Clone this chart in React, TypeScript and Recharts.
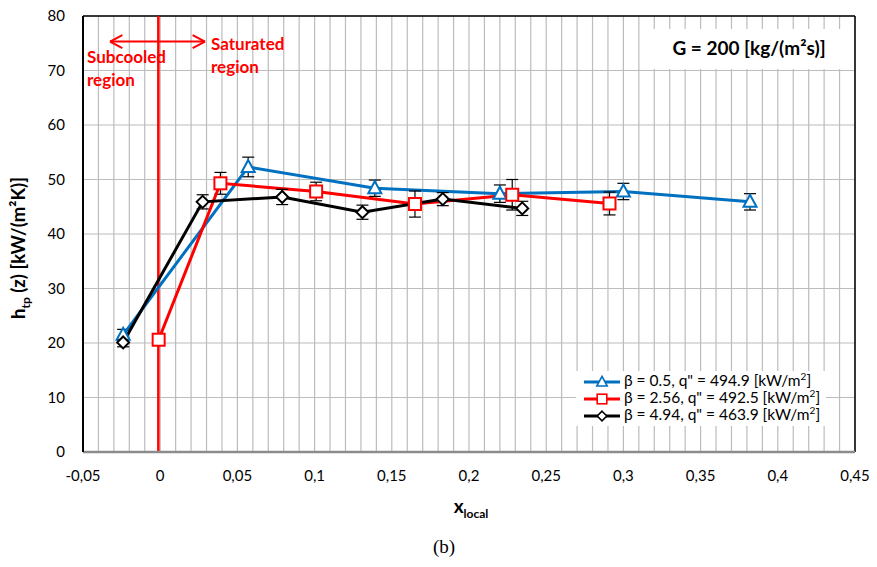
import {
  ComposedChart,
  Line,
  XAxis,
  YAxis,
  CartesianGrid,
  ErrorBar,
  ReferenceLine,
} from 'recharts'

// series
const blueX = [-0.024, 0.057, 0.139, 0.22, 0.3, 0.382]
const blueY = [21.5, 52.3, 48.4, 47.4, 47.8, 45.9]
const blueErr = [1.0, 1.8, 1.5, 1.6, 1.5, 1.5]

const redX = [-0.001, 0.039, 0.101, 0.165, 0.228, 0.291]
const redY = [20.6, 49.3, 47.8, 45.5, 47.2, 45.6]
const redErr = [0.8, 2.0, 1.7, 2.4, 2.8, 2.1]

const blackX = [-0.024, 0.0275, 0.079, 0.131, 0.183, 0.2345]
const blackY = [20.1, 45.9, 46.8, 44.0, 46.4, 44.7]
const blackErr = [0.8, 1.3, 1.4, 1.3, 1.2, 1.3]

const yTicks = [0, 10, 20, 30, 40, 50, 60, 70, 80]
// minor grid every 0.01, labels every 0.05
const xTicks = Array.from({ length: 51 }, (_, i) => (i - 5) / 100)

const seriesNames = [
  'β = 0.5, q" = 494.9 [kW/m',
  'β = 2.56, q" = 492.5 [kW/m',
  'β = 4.94, q" = 463.9 [kW/m',
]
const BLUE = '#0070C0'
const RED = '#FF0000'
const FONT = 'Lato, "Open Sans", sans-serif'

const toRows = (xs: number[], ys: number[], es: number[]) =>
  xs.map((x, i) => ({ x, y: ys[i], err: es[i] }))

const blueData = toRows(blueX, blueY, blueErr)
const redData = toRows(redX, redY, redErr)
const blackData = toRows(blackX, blackY, blackErr)

function formatX(v: number): string {
  const h = Math.round(v * 100)
  if (h % 5 !== 0) return ''
  return String(h / 100).replace('.', ',')
}

function Triangle({ cx, cy }: any) {
  if (cx == null || cy == null) return null
  return (
    <path
      d={`M${cx},${cy - 7} L${cx + 6.5},${cy + 5} L${cx - 6.5},${cy + 5} Z`}
      fill="#fff"
      stroke={BLUE}
      strokeWidth={2}
    />
  )
}

function Square({ cx, cy }: any) {
  if (cx == null || cy == null) return null
  return <rect x={cx - 6} y={cy - 6} width={12} height={12} fill="#fff" stroke={RED} strokeWidth={2} />
}

function Diamond({ cx, cy }: any) {
  if (cx == null || cy == null) return null
  return (
    <path
      d={`M${cx},${cy - 6} L${cx + 6},${cy} L${cx},${cy + 6} L${cx - 6},${cy} Z`}
      fill="#fff"
      stroke="#000"
      strokeWidth={2}
    />
  )
}

function LegendIcon({ kind }: { kind: number }) {
  const color = [BLUE, RED, '#000'][kind]
  const Shape = [Triangle, Square, Diamond][kind]
  return (
    <svg width={40} height={16} style={{ verticalAlign: 'middle' }}>
      <line x1={2} y1={8} x2={38} y2={8} stroke={color} strokeWidth={3} />
      <g transform="translate(20,8) scale(0.8) translate(-20,-8)">
        <Shape cx={20} cy={8} />
      </g>
    </svg>
  )
}

function LegendBox() {
  return (
    <div
      style={{
        position: 'absolute',
        left: 576,
        top: 371,
        background: '#fff',
        padding: '1px 6px 3px 6px',
        fontFamily: FONT,
        fontSize: 15.5,
        color: '#000',
      }}
    >
      {seriesNames.map((n, i) => (
        <div key={n} style={{ height: 17, lineHeight: '17px', whiteSpace: 'nowrap' }}>
          <LegendIcon kind={i} />
          <span style={{ marginLeft: 2 }}>
            {n}
            <sup style={{ fontSize: 10, lineHeight: 0 }}>2</sup>]
          </span>
        </div>
      ))}
    </div>
  )
}

const textAbs = (left: number, top: number): React.CSSProperties => ({
  position: 'absolute',
  left,
  top,
  fontFamily: FONT,
  whiteSpace: 'nowrap',
})

export default function App() {
  return (
    <div style={{ position: 'absolute', left: 0, top: 0, width: 877, height: 567, background: '#fff' }}>
      <ComposedChart
        width={877}
        height={567}
        margin={{ top: 16, right: 22, left: 0, bottom: 85 }}
        style={{ fontFamily: FONT }}
      >
        <CartesianGrid stroke="#bcbcbc" strokeWidth={1.2} />
        <XAxis
          type="number"
          dataKey="x"
          domain={[-0.05, 0.45]}
          ticks={xTicks}
          interval={0}
          tickFormatter={formatX}
          allowDataOverflow
          height={30}
          tickLine={false}
          axisLine={{ stroke: '#8c8c8c', strokeWidth: 2.5 }}
          tick={{ fontSize: 15, fill: '#000' }}
          tickMargin={12}
        />
        <YAxis
          type="number"
          domain={[0, 80]}
          ticks={yTicks}
          interval={0}
          width={83}
          tickLine={false}
          axisLine={{ stroke: '#000', strokeWidth: 2 }}
          tick={{ fontSize: 15, fill: '#000' }}
          tickMargin={12}
        />
        <ReferenceLine y={80} stroke="#000" strokeWidth={1.5} />
        <ReferenceLine x={0.45} stroke="#000" strokeWidth={1.5} />
        <ReferenceLine x={-0.0012} stroke={RED} strokeWidth={2.5} />
        {/* double arrow subcooled / saturated */}
        <ReferenceLine segment={[{ x: -0.0325, y: 75.3 }, { x: 0.029, y: 75.3 }]} stroke={RED} strokeWidth={2} />
        <ReferenceLine segment={[{ x: -0.0325, y: 75.3 }, { x: -0.0245, y: 76.5 }]} stroke={RED} strokeWidth={2} />
        <ReferenceLine segment={[{ x: -0.0325, y: 75.3 }, { x: -0.0245, y: 74.1 }]} stroke={RED} strokeWidth={2} />
        <ReferenceLine segment={[{ x: 0.029, y: 75.3 }, { x: 0.021, y: 76.5 }]} stroke={RED} strokeWidth={2} />
        <ReferenceLine segment={[{ x: 0.029, y: 75.3 }, { x: 0.021, y: 74.1 }]} stroke={RED} strokeWidth={2} />

        <Line
          data={blueData}
          dataKey="y"
          name="blue"
          stroke={BLUE}
          strokeWidth={3}
          dot={<Triangle />}
          activeDot={false}
          isAnimationActive={false}
        >
          <ErrorBar dataKey="err" direction="y" width={6} stroke="#000" strokeWidth={1.2} />
        </Line>
        <Line
          data={redData}
          dataKey="y"
          name="red"
          stroke={RED}
          strokeWidth={3}
          dot={<Square />}
          activeDot={false}
          isAnimationActive={false}
        >
          <ErrorBar dataKey="err" direction="y" width={6} stroke="#000" strokeWidth={1.2} />
        </Line>
        <Line
          data={blackData}
          dataKey="y"
          name="black"
          stroke="#000"
          strokeWidth={3}
          dot={<Diamond />}
          activeDot={false}
          isAnimationActive={false}
        >
          <ErrorBar dataKey="err" direction="y" width={6} stroke="#000" strokeWidth={1.2} />
        </Line>
      </ComposedChart>

      <LegendBox />

      {/* annotations */}
      <div style={{ ...textAbs(87, 45), color: RED, fontWeight: 700, fontSize: 17, lineHeight: '23px' }}>
        Subcooled
        <br />
        region
      </div>
      <div style={{ ...textAbs(211, 32), color: RED, fontWeight: 700, fontSize: 17, lineHeight: '23px' }}>
        Saturated
        <br />
        region
      </div>
      <div
        style={{
          ...textAbs(650, 29),
          width: 198,
          height: 40,
          background: '#fff',
          textAlign: 'center',
          lineHeight: '38px',
          fontWeight: 700,
          fontSize: 19,
          color: '#000',
        }}
      >
        G = 200 [kg/(m²s)]
      </div>
      <div
        style={{
          ...textAbs(20, 248),
          transform: 'translate(-50%, -50%) rotate(-90deg)',
          fontWeight: 700,
          fontSize: 18.5,
          color: '#000',
        }}
      >
        h<sub style={{ fontSize: 12 }}>tp</sub> (z) [kW/(m²K)]
      </div>
      <div style={{ ...textAbs(471, 494), transform: 'translateX(-50%)', fontWeight: 700, fontSize: 19, color: '#000' }}>
        x<sub style={{ fontSize: 12 }}>local</sub>
      </div>
      <div
        style={{
          ...textAbs(444, 536),
          transform: 'translateX(-50%)',
          fontFamily: '"Liberation Serif", "DejaVu Serif", serif',
          fontSize: 19,
          color: '#000',
        }}
      >
        (b)
      </div>
    </div>
  )
}
